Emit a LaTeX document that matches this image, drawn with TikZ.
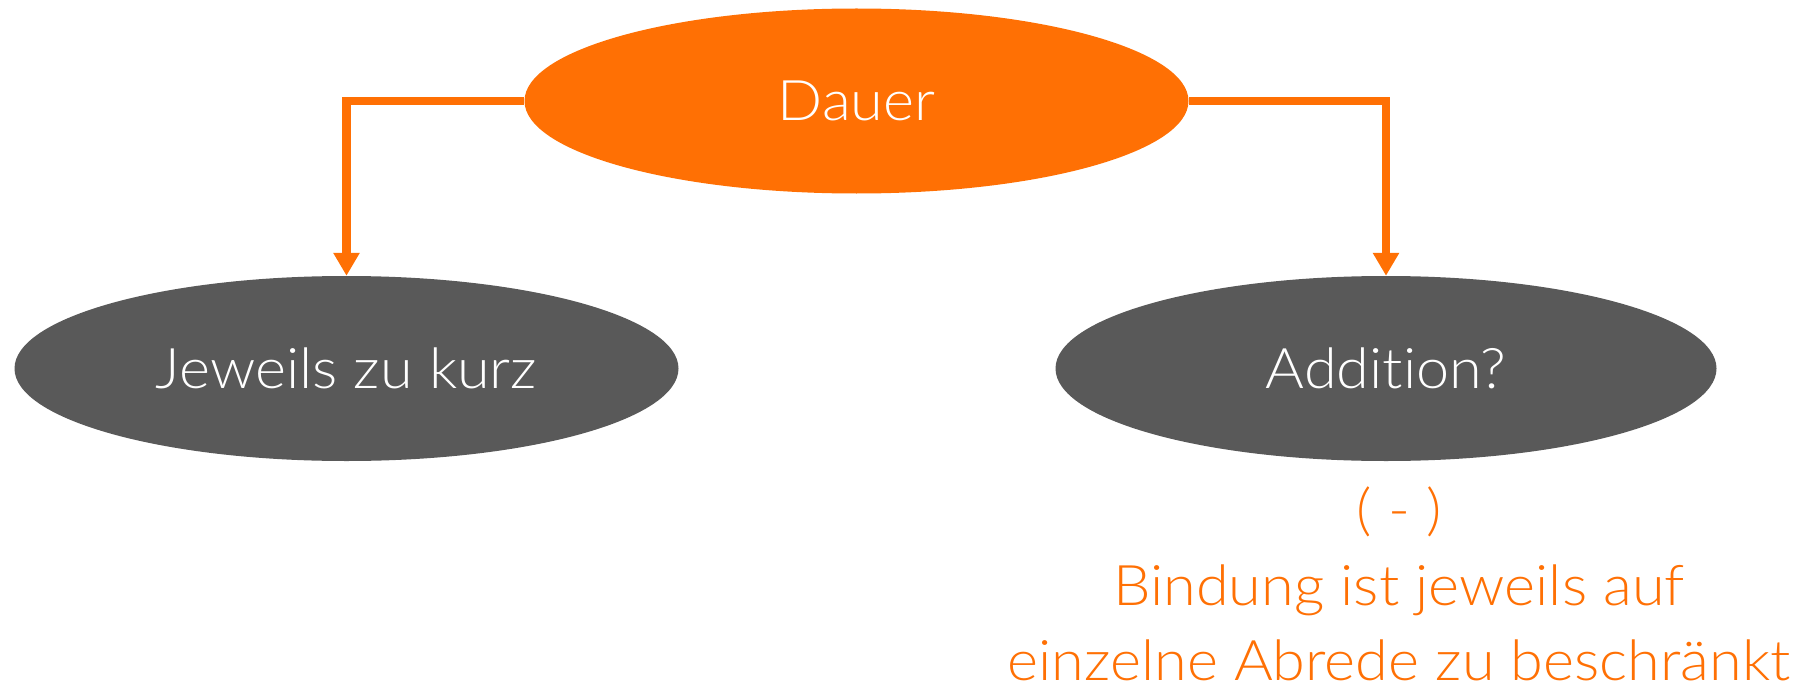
\documentclass[tikz,border=0pt]{standalone}
\usepackage{fontspec}
\setmainfont{Lato}[UprightFont=* Light,Ligatures=NoCommon,FakeStretch=1.06]
\usetikzlibrary{arrows.meta,shapes.geometric}
\definecolor{orng}{HTML}{FF7004}
\definecolor{gry}{HTML}{595959}
\begin{document}
\begin{tikzpicture}[x=1pt,y=-1pt,
  bubble/.style={ellipse,inner sep=0pt,minimum width=664pt,minimum height=185pt,text=white,font=\fontsize{56}{74}\selectfont},
  conn/.style={draw=orng,line width=8.5pt,-{Triangle[width=25pt,length=23pt]}},
  note/.style={anchor=base,text=orng,font=\fontsize{56}{74}\selectfont,inner sep=0pt}]
\useasboundingbox (0,0) rectangle (1804,690);
\node[bubble,fill=orng] (dauer) at (856.5,101) {Dauer};
\node[bubble,fill=gry] (jeweils) at (346.5,368.5) {Jeweils zu kurz};
\node[bubble,fill=gry,minimum width=661pt] (addition) at (1386,368.5) {Addition?};
\draw[conn] (dauer.west) -| (jeweils.north);
\draw[conn] (dauer.east) -| (addition.north);
\node[note] (minus) at (1399,529) {( - )};
\node[note] (l1) at (1399,605) {Bindung ist jeweils auf};
\node[note] (l2) at (1399,680) {einzelne Abrede zu beschränkt};
\end{tikzpicture}
\end{document}
